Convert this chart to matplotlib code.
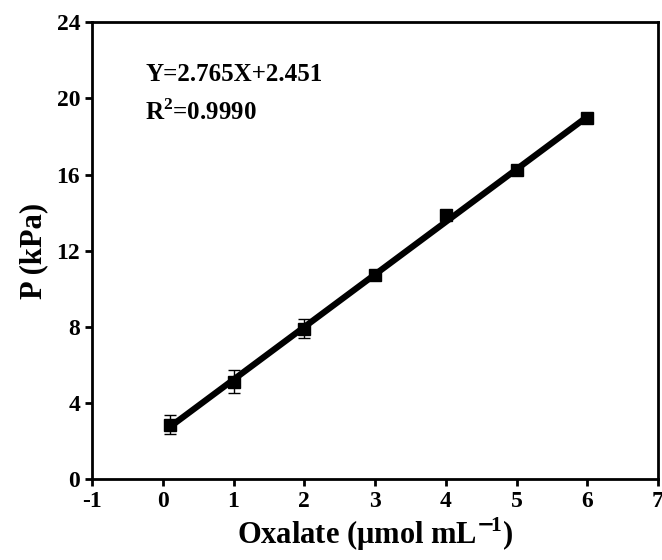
import numpy as np
import matplotlib
matplotlib.use('Agg')
from matplotlib import pyplot as plt

plt.rcParams['font.family'] = ['Liberation Serif', 'DejaVu Serif']
plt.rcParams['font.weight'] = 'bold'
plt.rcParams['axes.unicode_minus'] = False
plt.rcParams['mathtext.fontset'] = 'custom'
plt.rcParams['mathtext.rm'] = 'Liberation Serif:bold'
plt.rcParams['mathtext.bf'] = 'Liberation Serif:bold'

conc = [0.1, 1, 2, 3, 4, 5, 6]
pressure = [2.85, 5.1, 7.9, 10.7, 13.85, 16.25, 18.95]
err = [0.5, 0.6, 0.5, 0.15, 0.2, 0.15, 0.2]
slope = 2.765
intercept = 2.451
r2 = '0.9990'

fig = plt.figure(figsize=(6.62, 5.6), dpi=100)
ax = fig.add_axes([0.139, 0.145, 0.855, 0.815])

xs = np.array([conc[0], conc[-1]])
ax.plot(xs, slope * xs + intercept, color='black', lw=4.5, zorder=2)
ax.errorbar(conc, pressure, yerr=err, fmt='s', color='black', ms=8,
            ecolor='black', elinewidth=1, capsize=4, capthick=1, zorder=3)

ax.set_xlim(-1, 7)
ax.set_ylim(0, 24)
ax.set_xticks(range(-1, 8))
ax.set_yticks(range(0, 25, 4))
for s in ax.spines.values():
    s.set_linewidth(2)
ax.tick_params(direction='out', width=2, length=5, labelsize=17)
for lab in ax.get_xticklabels() + ax.get_yticklabels():
    lab.set_fontweight('bold')

# superscript a bit larger, as in the reference
ax.set_xlabel(r'Oxalate (μmol mL$^{\mathbf{\mathsf{-}}\!\mathbf{1}}$)', fontsize=22,
              fontweight='bold', labelpad=3)
ax.set_ylabel('P (kPa)', fontsize=22, fontweight='bold', labelpad=6)

ax.text(-0.25, 21.25, 'Y=%.3fX+%.3f' % (slope, intercept),
        fontsize=18, fontweight='bold', va='center')
ax.text(-0.25, 19.3, 'R$^2$=' + r2,
        fontsize=18, fontweight='bold', va='center')

fig.savefig('out.png', dpi=100)
